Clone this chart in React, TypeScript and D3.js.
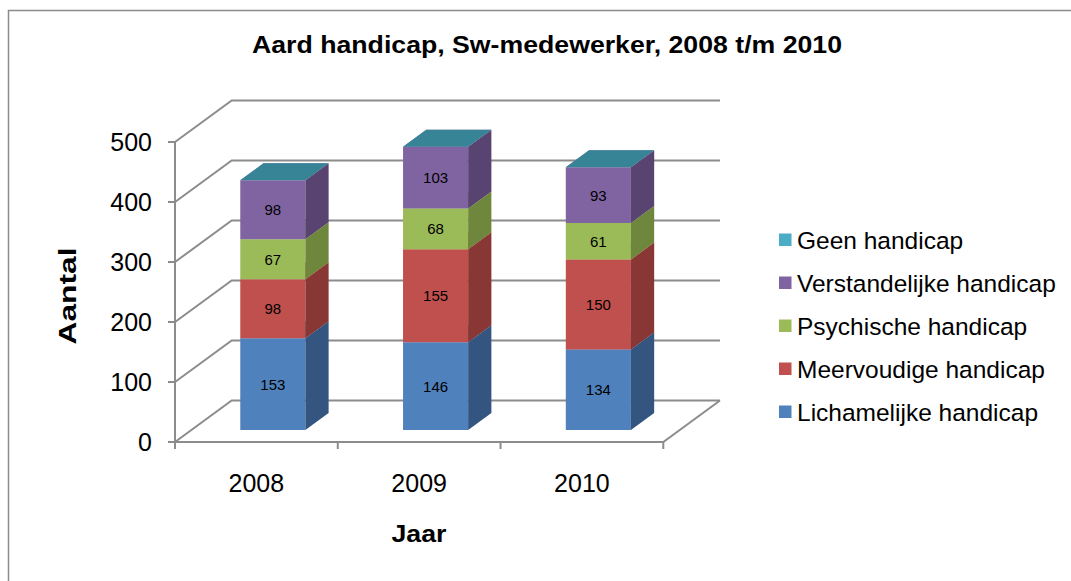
import React from "react";
import * as d3 from "d3";

const years = ["2008", "2009", "2010"];
const seriesNames = [
  "Lichamelijke handicap",
  "Meervoudige handicap",
  "Psychische handicap",
  "Verstandelijke handicap",
  "Geen handicap",
];
const lichamelijke = [153, 146, 134];
const meervoudige = [98, 155, 150];
const psychische = [67, 68, 61];
const verstandelijke = [98, 103, 93];
const geen = [0, 0, 0];
const yTicks = [0, 100, 200, 300, 400, 500];

const frontColors = ["#4F81BD", "#C0504D", "#9BBB59", "#8064A2", "#4BACC6"];
const sideColors = ["#34557F", "#883734", "#6E873C", "#584371", "#2F7C8F"];
const topColors = ["#5E8FC8", "#CB6562", "#A9C870", "#8F75AE", "#388497"];

const FONT = "'Liberation Sans', Arial, Helvetica, sans-serif";

export default function App() {
  const W = 1071;
  const H = 581;
  const x0 = 175;
  const y0 = 442;
  const plotW = 488.3;
  const Dx = 56.7;
  const Dy = -41.5;
  const zFront = 0.29;
  const zBack = 0.7;

  const xBand = d3
    .scaleBand<string>()
    .domain(years)
    .range([0, plotW])
    .paddingInner(0.6)
    .paddingOuter(0.3);
  const yScale = d3.scaleLinear().domain([0, 500]).range([0, 300]);

  const P = (xf: number, v: number, z: number): [number, number] => [
    x0 + xf + z * Dx,
    y0 - yScale(v) + z * Dy,
  ];
  const pts = (arr: [number, number][]) => arr.map((p) => p.join(",")).join(" ");

  const seriesData = [lichamelijke, meervoudige, psychische, verstandelijke, geen];
  const stackInput = years.map((yr, i) => {
    const o: any = { year: yr };
    seriesNames.forEach((s, k) => (o[s] = seriesData[k][i]));
    return o;
  });
  const stacked = d3.stack<any>().keys(seriesNames)(stackInput);

  const gridColor = "#8C8C8C";
  const step = plotW / years.length;

  return (
    <svg
      width={W}
      height={H}
      style={{ position: "absolute", left: 0, top: 0, display: "block", background: "#fff" }}
      fontFamily={FONT}
    >
      <rect x={8.5} y={10.5} width={1080} height={600} fill="#fff" stroke="#8C8C8C" strokeWidth={1.5} />
      <text
        x={547}
        y={53}
        textAnchor="middle"
        fontWeight="bold"
        fontSize={23}
        textLength={590}
        lengthAdjust="spacingAndGlyphs"
      >
        Aard handicap, Sw-medewerker, 2008 t/m 2010
      </text>

      {/* gridlines: side wall diagonal + back wall */}
      {yTicks.map((v) => {
        const a = P(0, v, 0);
        const b = P(0, v, 1);
        const c = P(plotW, v, 1);
        return (
          <polyline
            key={"g" + v}
            points={pts([a, b, c])}
            fill="none"
            stroke={gridColor}
            strokeWidth={2}
          />
        );
      })}
      {/* floor front and right edge */}
      <polyline
        points={pts([P(0, 0, 0), P(plotW, 0, 0), P(plotW, 0, 1)])}
        fill="none"
        stroke={gridColor}
        strokeWidth={2}
      />
      {/* y axis */}
      <line
        x1={P(0, 0, 0)[0]}
        y1={P(0, 0, 0)[1]}
        x2={P(0, 500, 0)[0]}
        y2={P(0, 500, 0)[1]}
        stroke={gridColor}
        strokeWidth={2}
      />
      {yTicks.map((v) => {
        const [px, py] = P(0, v, 0);
        return (
          <g key={"yt" + v}>
            <line x1={px - 7} y1={py} x2={px} y2={py} stroke={gridColor} strokeWidth={2} />
            <text x={152} y={py + 9} textAnchor="end" fontSize={25}>
              {v}
            </text>
          </g>
        );
      })}
      {d3.range(years.length + 1).map((i) => {
        const [px, py] = P(i * step, 0, 0);
        return (
          <line key={"xt" + i} x1={px} y1={py} x2={px} y2={py + 7} stroke={gridColor} strokeWidth={2} />
        );
      })}
      {years.map((yr) => {
        const [px] = P((xBand(yr) as number) + xBand.bandwidth() / 2, 0, 0);
        return (
          <text key={"xl" + yr} x={px} y={492} textAnchor="middle" fontSize={25}>
            {yr}
          </text>
        );
      })}

      {/* bars */}
      {years.map((yr, i) => {
        const bx = xBand(yr) as number;
        const bw = xBand.bandwidth();
        return (
          <g key={"bar" + yr}>
            {stacked.map((s, k) => {
              const v0 = s[i][0];
              const v1 = s[i][1];
              const fl = P(bx, v0, zFront);
              const fr = P(bx + bw, v0, zFront);
              const tl = P(bx, v1, zFront);
              const tr = P(bx + bw, v1, zFront);
              const br = P(bx + bw, v0, zBack);
              const btr = P(bx + bw, v1, zBack);
              const btl = P(bx, v1, zBack);
              return (
                <g key={"seg" + k}>
                  {v1 > v0 && (
                    <>
                      <polygon points={pts([fl, fr, tr, tl])} fill={frontColors[k]} />
                      <polygon points={pts([fr, br, btr, tr])} fill={sideColors[k]} />
                    </>
                  )}
                  <polygon points={pts([tl, tr, btr, btl])} fill={topColors[k]} />
                </g>
              );
            })}
            {stacked.map((s, k) => {
              const v0 = s[i][0];
              const v1 = s[i][1];
              if (v1 - v0 <= 0) return null;
              const [cx, cy] = P(bx + bw / 2, (v0 + v1) / 2, zFront);
              return (
                <text key={"lb" + k} x={cx} y={cy + 5.5} textAnchor="middle" fontSize={15}>
                  {v1 - v0}
                </text>
              );
            })}
          </g>
        );
      })}

      <text
        transform="translate(76,296) rotate(-90)"
        textAnchor="middle"
        fontWeight="bold"
        fontSize={23}
        textLength={97}
        lengthAdjust="spacingAndGlyphs"
      >
        Aantal
      </text>
      <text
        x={419}
        y={542}
        textAnchor="middle"
        fontWeight="bold"
        fontSize={23}
        textLength={55}
        lengthAdjust="spacingAndGlyphs"
      >
        Jaar
      </text>

      {/* legend */}
      {seriesNames
        .slice()
        .reverse()
        .map((name, j) => {
          const k = seriesNames.length - 1 - j;
          const cy = 240 + j * 43;
          return (
            <g key={"lg" + name}>
              <rect x={779} y={cy - 6.5} width={12.5} height={12.5} fill={frontColors[k]} />
              <text x={797} y={cy + 8.5} fontSize={24.5}>
                {name}
              </text>
            </g>
          );
        })}
    </svg>
  );
}
